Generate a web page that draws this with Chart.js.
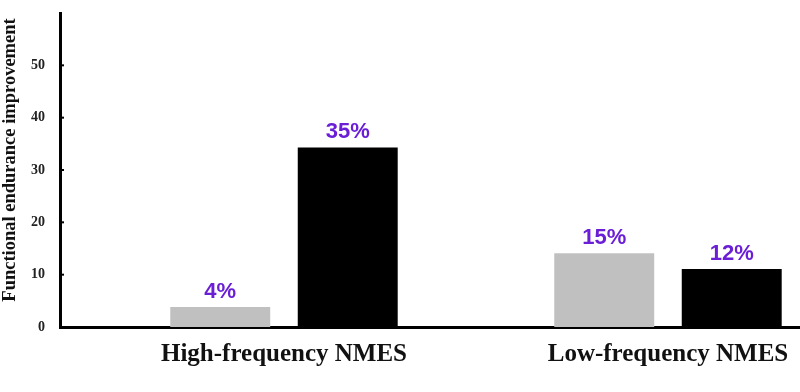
<!DOCTYPE html>
<html>
<head>
<meta charset="utf-8">
<script src="https://cdn.jsdelivr.net/npm/chart.js@4.4.1/dist/chart.umd.min.js"></script>
<style>
    html, body { margin: 0; padding: 0; background: #fff; }
    #wrap { width: 800px; height: 392px; }
</style>
</head>
<body>
<div id="wrap"><canvas id="chart" width="800" height="392"></canvas></div>
<script>
// chart data
const categories = ['High-frequency NMES', 'Low-frequency NMES'];
const categoryPos = [1, 2];
const grayValues = [3.8, 14.1];
const blackValues = [34.3, 11.1];
const grayLabels = ['4%', '15%'];
const blackLabels = ['35%', '12%'];
const yTicks = [0, 10, 20, 30, 40, 50];
const yTitle = 'Functional endurance improvement';

const serif = '"Liberation Serif", "Times New Roman", serif';

// percentage labels over the bars
const barLabels = {
    id: 'barLabels',
    afterDatasetsDraw(chart) {
        const ctx = chart.ctx;
        const texts = [grayLabels, blackLabels];
        ctx.save();
        ctx.font = 'bold 22px "Liberation Sans", Arial, sans-serif';
        ctx.fillStyle = '#6a1fd6';
        ctx.textAlign = 'center';
        ctx.textBaseline = 'alphabetic';
        chart.data.datasets.forEach(function (ds, d) {
            chart.getDatasetMeta(d).data.forEach(function (bar, i) {
                ctx.fillText(texts[d][i], bar.x, bar.y - 9);
            });
        });
        ctx.restore();
    }
};

// small tick marks pointing into the plot + y title (sits a bit above the axis centre)
const innerTicks = {
    id: 'innerTicks',
    afterDraw(chart) {
        const ctx = chart.ctx;
        const y = chart.scales.y;
        const area = chart.chartArea;
        ctx.save();
        ctx.strokeStyle = '#000';
        ctx.lineWidth = 2;
        y.ticks.forEach(function (t) {
            if (t.value === 0) return;
            const py = y.getPixelForValue(t.value);
            ctx.beginPath();
            ctx.moveTo(area.left, py);
            ctx.lineTo(area.left + 4, py);
            ctx.stroke();
        });

        ctx.translate(10, (area.top + area.bottom) / 2 - 10);
        ctx.rotate(-Math.PI / 2);
        ctx.font = 'bold 18.5px ' + serif;
        ctx.fillStyle = '#111';
        ctx.textAlign = 'center';
        ctx.textBaseline = 'middle';
        ctx.fillText(yTitle, 0, 0);
        ctx.restore();
    }
};

new Chart(document.getElementById('chart'), {
    type: 'bar',
    data: {
        datasets: [{
            label: 'gray',
            data: categoryPos.map((x, i) => ({ x: x, y: grayValues[i] })),
            backgroundColor: '#c0c0c0',
            categoryPercentage: 0.664,
            barPercentage: 0.784
        }, {
            label: 'black',
            data: categoryPos.map((x, i) => ({ x: x, y: blackValues[i] })),
            backgroundColor: '#000000',
            categoryPercentage: 0.664,
            barPercentage: 0.784
        }]
    },
    options: {
        responsive: false,
        animation: false,
        layout: { padding: { top: 13, right: 0, left: 0, bottom: 0 } },
        plugins: {
            legend: { display: false },
            tooltip: { enabled: false }
        },
        scales: {
            x: {
                type: 'linear',
                offset: false,
                min: 0.4167,
                max: 2.3438,
                grid: { display: false, drawTicks: false, offset: false },
                border: { display: true, color: '#000', width: 3 },
                afterBuildTicks: function (scale) {
                    scale.ticks = categoryPos.map(v => ({ value: v }));
                },
                afterFit: function (scale) {
                    scale.height = 65;
                    scale.paddingLeft = 0;
                    scale.paddingRight = 0;
                },
                ticks: {
                    padding: 13,
                    color: '#111',
                    font: { family: serif, size: 25, weight: 'bold' },
                    callback: function (v) {
                        const i = categoryPos.indexOf(v);
                        return i >= 0 ? categories[i] : '';
                    }
                }
            },
            y: {
                min: 0,
                max: 60,
                grid: { display: false, drawTicks: false },
                border: { display: true, color: '#000', width: 3 },
                afterBuildTicks: function (scale) {
                    scale.ticks = yTicks.map(v => ({ value: v }));
                },
                afterFit: function (scale) {
                    scale.width = 60;
                    scale.paddingTop = 0;
                    scale.paddingBottom = 0;
                },
                ticks: {
                    padding: 15,
                    color: '#222',
                    font: { family: serif, size: 14, weight: 'bold' }
                }
            }
        }
    },
    plugins: [barLabels, innerTicks]
});
</script>
</body>
</html>
